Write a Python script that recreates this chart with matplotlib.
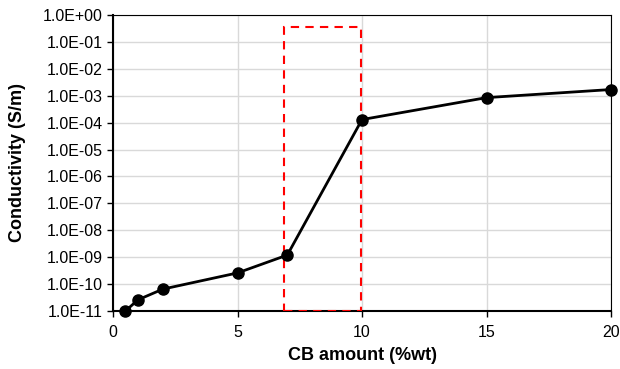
import matplotlib.pyplot as plt
import matplotlib.ticker as ticker
from matplotlib.patches import Rectangle
import numpy as np

plt.rcParams['font.family'] = ['Liberation Sans', 'DejaVu Sans']

# data
cb_amount = [0.5, 1, 2, 5, 7, 10, 15, 20]
conductivity = [1.0e-11, 2.6e-11, 6.5e-11, 2.6e-10, 1.2e-9, 1.3e-4, 8.5e-4, 1.7e-3]

# red dashed box marking the percolation region
box_x = [6.85, 9.95]
box_y = [1.0e-11, 3.5e-1]

fig = plt.figure(figsize=(6.2, 3.69), dpi=100)
ax = fig.add_axes([113 / 620, 1 - 311 / 369, (611 - 113) / 620, (311 - 15) / 369])

ax.plot(cb_amount, conductivity, color='black', lw=2, marker='o', ms=8,
        zorder=4, clip_on=False)

ax.add_patch(Rectangle((box_x[0], box_y[0]), box_x[1] - box_x[0], box_y[1] - box_y[0],
                       fill=False, edgecolor='#ff0000', lw=1.5, ls=(0, (4, 3)),
                       zorder=3))

ax.set_yscale('log')
ax.set_xlim(0, 20)
ax.set_ylim(1e-11, 1e0)
ax.set_xticks([0, 5, 10, 15, 20])
ax.yaxis.set_major_locator(ticker.LogLocator(base=10, numticks=20))
ax.yaxis.set_minor_locator(ticker.NullLocator())
ax.yaxis.set_major_formatter(ticker.FuncFormatter(
    lambda v, p: '1.0E{:+03d}'.format(int(round(np.log10(v))))))

ax.grid(True, color='#d9d9d9', lw=1, zorder=0)
ax.set_axisbelow(True)

for s in ['top', 'right']:
    ax.spines[s].set_linewidth(0.8)
for s in ['left', 'bottom']:
    ax.spines[s].set_linewidth(1.5)

ax.tick_params(axis='both', direction='out', length=4, width=1, labelsize=11.5,
               colors='black')
ax.tick_params(axis='x', pad=6)

ax.set_xlabel('CB amount (%wt)', fontsize=13, fontweight='bold', labelpad=5)
ax.set_ylabel('Conductivity (S/m)', fontsize=13, fontweight='bold')
ax.yaxis.set_label_coords(-(113 - 26) / 498, 0.5)

fig.savefig('out.png', dpi=100)
